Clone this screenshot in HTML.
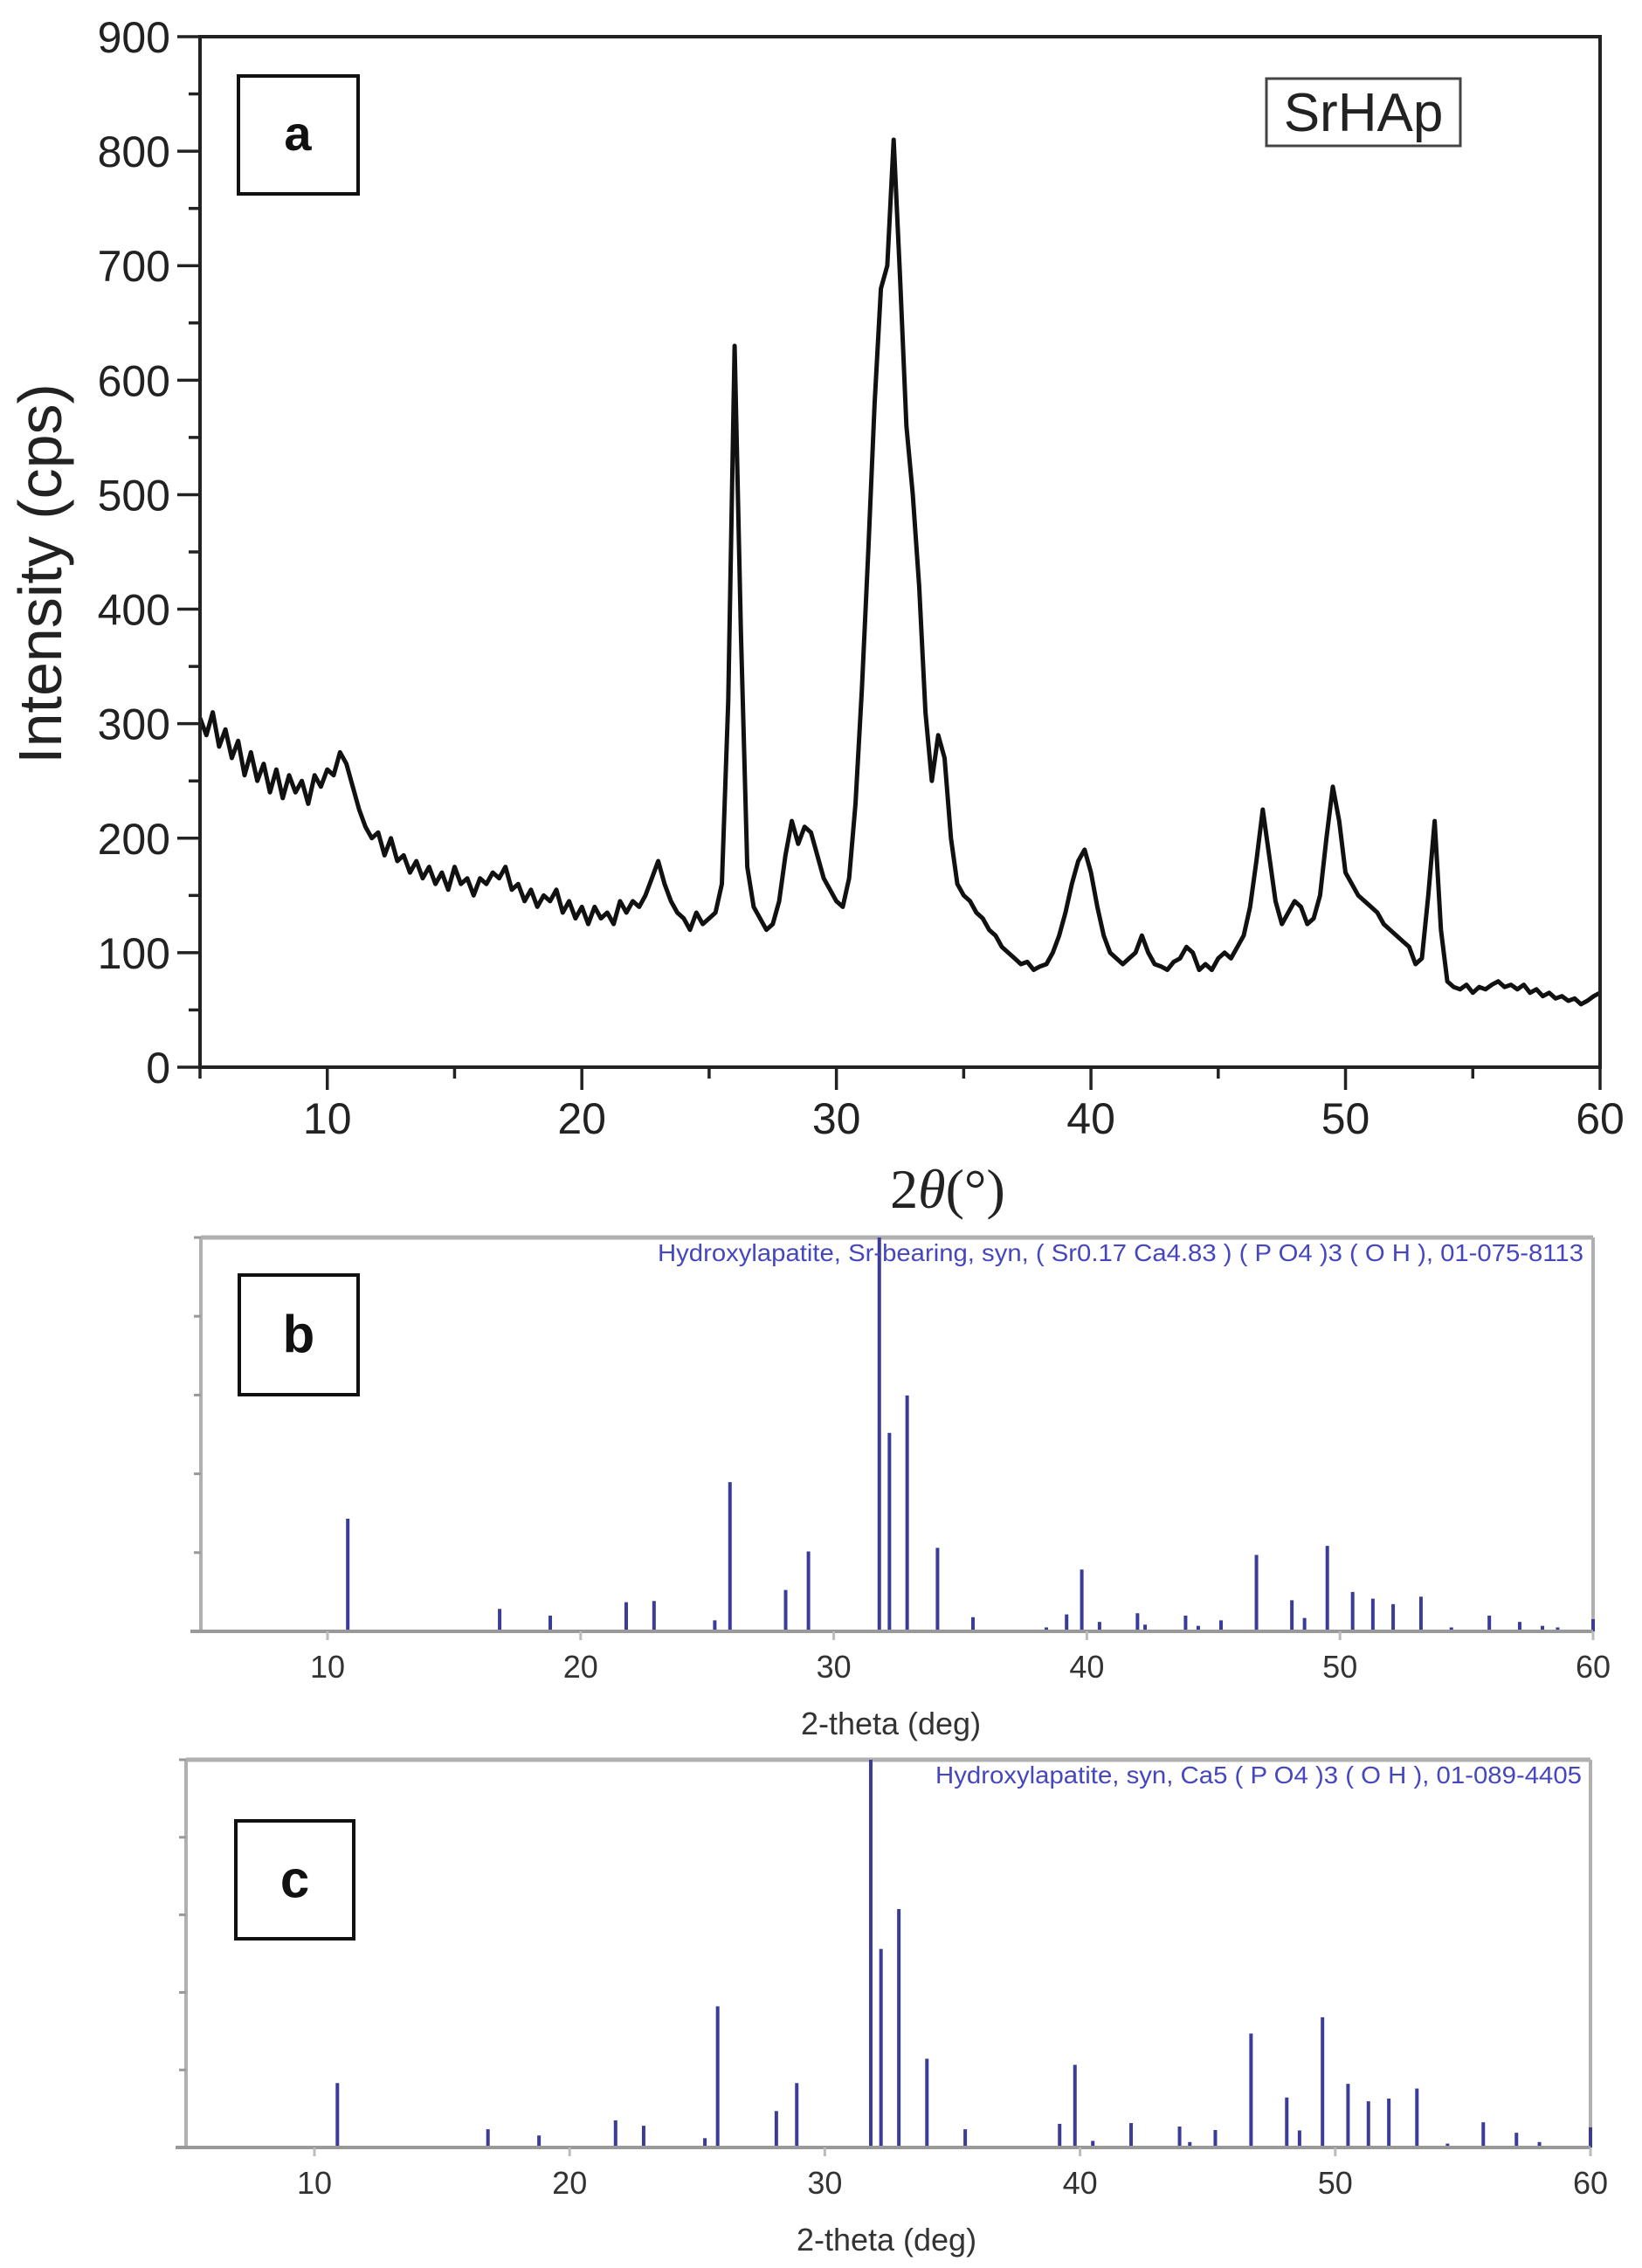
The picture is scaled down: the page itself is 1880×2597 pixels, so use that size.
<!DOCTYPE html>
<html><head><meta charset="utf-8"><style>
html,body{margin:0;padding:0;background:#fff;}
svg{display:block;}
</style></head><body>
<svg id="fig" width="1880" height="2597" viewBox="0 0 1880 2597" xmlns="http://www.w3.org/2000/svg">
<rect width="1880" height="2597" fill="#fff"/>
<g id="pa"></g>
<g id="pb"></g>
<g id="pc"></g>
</svg>
<script>
// ---- Panel a data (measured pattern, 0.25 deg steps from 5 deg) ----
const thetaStart = 5;
const thetaStep = 0.25;
const intensityA = [
305,290,310,280,295,270,285,255,275,250,265,240,260,235,255,240,250,230,255,245,
260,255,275,265,245,225,210,200,205,185,200,180,185,170,180,165,175,160,170,155,
175,160,165,150,165,160,170,165,175,155,160,145,155,140,150,145,155,135,145,130,
140,125,140,130,135,125,145,135,145,140,150,165,180,160,145,135,130,120,135,125,
130,135,160,320,630,380,175,140,130,120,125,145,185,215,195,210,205,185,165,155,
145,140,165,230,330,450,580,680,700,810,690,560,500,420,310,250,290,270,200,160,
150,145,135,130,120,115,105,100,95,90,92,85,88,90,100,115,135,160,180,190,
170,140,115,100,95,90,95,100,115,100,90,88,85,92,95,105,100,85,90,85,
95,100,95,105,115,140,180,225,185,145,125,135,145,140,125,130,150,200,245,215,
170,160,150,145,140,135,125,120,115,110,105,90,95,150,215,120,75,70,68,72,
65,70,68,72,75,70,72,68,72,65,68,62,65,60,62,58,60,55,58,62,
65];
const yTicksA = [0,100,200,300,400,500,600,700,800,900];
const xTicks = [10,20,30,40,50,60];
// ---- Panel b reference sticks ----
const thetaB = [10.8,16.8,18.8,21.8,22.9,25.3,25.9,28.1,29.0,31.8,32.2,32.9,34.1,35.5,38.4,39.2,39.8,40.5,42.0,42.3,43.9,44.4,45.3,46.7,48.1,48.6,49.5,50.5,51.3,52.1,53.2,54.4,55.9,57.1,58.0,58.6,60.0];
const relB = [28.6,5.7,4,7.4,7.7,2.8,37.9,10.5,20.3,100,50.4,59.9,21.2,3.6,1,4.3,15.7,2.4,4.6,1.7,4,1.4,2.8,19.4,7.9,3.4,21.7,10,8.3,6.9,8.8,1,4,2.4,1.4,1,3.1];
// ---- Panel c reference sticks ----
const thetaC = [10.9,16.8,18.8,21.8,22.9,25.3,25.8,28.1,28.9,31.8,32.2,32.9,34.0,35.5,39.2,39.8,40.5,42.0,43.9,44.3,45.3,46.7,48.1,48.6,49.5,50.5,51.3,52.1,53.2,54.4,55.8,57.1,58.0,60.0];
const relC = [16.6,4.7,3.1,7,5.6,2.4,36.4,9.4,16.6,100,51.2,61.5,22.9,4.7,6.1,21.3,1.7,6.3,5.4,1.4,4.5,29.4,12.9,4.4,33.6,16.4,11.9,12.6,15.2,1,6.5,3.8,1.4,5.2];
const relTicks = [0,20,40,60,80,100];

const NS = "http://www.w3.org/2000/svg";
function mk(parent, tag, attrs, text){
  const e = document.createElementNS(NS, tag);
  for (const k in attrs) e.setAttribute(k, attrs[k]);
  if (text !== undefined) e.textContent = text;
  parent.appendChild(e);
  return e;
}
function lin(d0,d1,p0,p1){ return v => p0 + (v-d0)*(p1-p0)/(d1-d0); }

// ================= Panel A =================
(function(){
  const g = document.getElementById('pa');
  const X = lin(5,60,229,1832), Y = lin(0,900,1222,42);
  let pts = intensityA.map((v,i)=> X(thetaStart+i*thetaStep).toFixed(1)+','+Y(v).toFixed(1)).join(' ');
  const pl = mk(g,'polyline',{points:pts,fill:'none',stroke:'#111','stroke-width':5,'stroke-linejoin':'round'});
  
  
  const fr = mk(g,'rect',{x:229,y:42,width:1603,height:1180,fill:'none',stroke:'#222','stroke-width':4});
  
  
  for (let v=0; v<=900; v+=50){
    const major = v%100===0;
    mk(g,'line',{x1:229,x2:229-(major?26:13),y1:Y(v),y2:Y(v),stroke:'#222','stroke-width':3.5});
  }
  yTicksA.forEach(v=>{
    const t = mk(g,'text',{x:195,y:Y(v)+18,'text-anchor':'end','font-family':'Liberation Sans, sans-serif','font-size':50,fill:'#222'},String(v));
    
    
  });
  for (let v=5; v<=60; v+=5){
    const major = v%10===0;
    mk(g,'line',{x1:X(v),x2:X(v),y1:1222,y2:1222+(major?26:13),stroke:'#222','stroke-width':3.5});
  }
  xTicks.forEach(v=>{
    const t = mk(g,'text',{x:X(v),y:1298,'text-anchor':'middle','font-family':'Liberation Sans, sans-serif','font-size':50,fill:'#222'},String(v));
    
    
  });
  const yt = mk(g,'text',{x:0,y:0,transform:'translate(70,657) rotate(-90)','text-anchor':'middle','font-family':'Liberation Sans, sans-serif','font-size':70,fill:'#222'},'Intensity (cps)');
  
  
  const xt = mk(g,'text',{x:1085,y:1383,'text-anchor':'middle','font-family':'Liberation Serif, serif','font-size':64,fill:'#222'});
  
  
  mk(xt,'tspan',{},'2');
  mk(xt,'tspan',{'font-style':'italic'},'θ');
  mk(xt,'tspan',{},'(°)');
  const lb = mk(g,'rect',{x:1450,y:90,width:222,height:77,fill:'#fff',stroke:'#444','stroke-width':3});
  
  
  const lt = mk(g,'text',{x:1561,y:150,'text-anchor':'middle','font-family':'Liberation Sans, sans-serif','font-size':62,fill:'#222'},'SrHAp');
  
  
  const ab = mk(g,'rect',{x:273,y:87,width:137,height:135,fill:'#fff',stroke:'#111','stroke-width':4});
  
  
  const at = mk(g,'text',{x:341,y:172,'text-anchor':'middle','font-family':'Liberation Sans, sans-serif','font-size':56,'font-weight':'bold',fill:'#111'},'a');
  
  
})();

// ================= Stick panels =================
function stickPanel(gid, thetas, rels, cfg){
  const g = document.getElementById(gid);
  const X = lin(10,60,cfg.x10,cfg.x60), Y = lin(0,100,cfg.bottom,cfg.top);
  mk(g,'line',{x1:cfg.left,x2:cfg.x60,y1:cfg.top,y2:cfg.top,stroke:'#b0b0b0','stroke-width':5});
  mk(g,'line',{x1:cfg.left,x2:cfg.left,y1:cfg.top,y2:cfg.bottom,stroke:'#b0b0b0','stroke-width':4});
  mk(g,'line',{x1:cfg.x60,x2:cfg.x60,y1:cfg.top,y2:cfg.bottom,stroke:'#b0b0b0','stroke-width':4});
  relTicks.forEach(v=>{
    mk(g,'line',{x1:cfg.left-8,x2:cfg.left,y1:Y(v),y2:Y(v),stroke:'#999','stroke-width':3});
  });
  thetas.forEach((t,i)=>{
    const s = mk(g,'line',{x1:X(t),x2:X(t),y1:cfg.bottom,y2:Y(rels[i]),stroke:'#3b3b9a','stroke-width':4});
    
    
  });
  mk(g,'line',{x1:cfg.left-12,x2:cfg.x60,y1:cfg.bottom,y2:cfg.bottom,stroke:'#999','stroke-width':4});
  xTicks.forEach(v=>{
    mk(g,'line',{x1:X(v),x2:X(v),y1:cfg.bottom,y2:cfg.bottom+10,stroke:'#bbb','stroke-width':3});
    const t = mk(g,'text',{x:X(v),y:cfg.bottom+53,'text-anchor':'middle','font-family':'Liberation Sans, sans-serif','font-size':36,fill:'#333'},String(v));
    
    
  });
  const xt = mk(g,'text',{x:cfg.titleX,y:cfg.bottom+118,'text-anchor':'middle','font-family':'Liberation Sans, sans-serif','font-size':36,fill:'#333'},'2-theta (deg)');
  
  
  const an = mk(g,'text',{x:cfg.annX,y:cfg.top+27,'font-family':'Liberation Sans, sans-serif','font-size':28,fill:'#4646c0',textLength:cfg.annW,lengthAdjust:'spacingAndGlyphs'},cfg.ann);
  
  
  const b = mk(g,'rect',{x:cfg.box[0],y:cfg.box[1],width:cfg.box[2],height:cfg.box[3],fill:'none',stroke:'#111','stroke-width':4});
  
  
  const bt = mk(g,'text',{x:cfg.box[0]+cfg.box[2]/2,y:cfg.box[1]+cfg.box[3]/2+20,'text-anchor':'middle','font-family':'Liberation Sans, sans-serif','font-size':60,'font-weight':'bold',fill:'#111'},cfg.label);
  
  
}
stickPanel('pb', thetaB, relB, {left:230,x10:375,x60:1824,top:1417,bottom:1868,titleX:1020,
  annX:753, annW:1060, ann:'Hydroxylapatite, Sr-bearing, syn, ( Sr0.17 Ca4.83 ) ( P O4 )3 ( O H ), 01-075-8113',
  box:[274,1460,136,137], label:'b'});
stickPanel('pc', thetaC, relC, {left:213,x10:360,x60:1821,top:2015,bottom:2459,titleX:1015,
  annX:1071, annW:740, ann:'Hydroxylapatite, syn, Ca5 ( P O4 )3 ( O H ), 01-089-4405',
  box:[270,2085,135,135], label:'c'});
</script>
</body></html>
